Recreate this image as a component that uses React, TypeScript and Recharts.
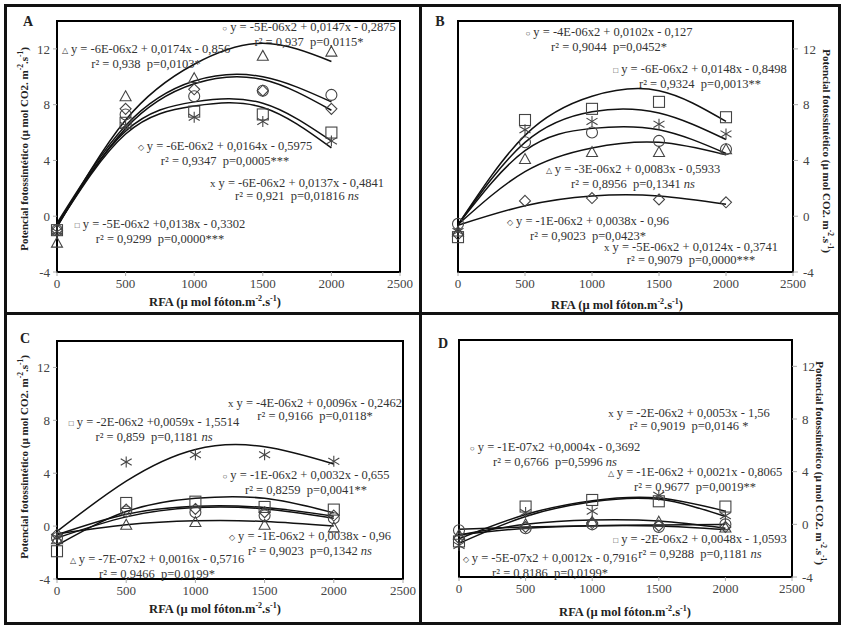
import React from 'react';
import { ComposedChart, Line, XAxis, YAxis, ReferenceArea } from 'recharts';

const serif = "'Liberation Serif', 'Times New Roman', serif";

const rfa = [0, 500, 1000, 1500, 2000];
const xTicks = [0, 500, 1000, 1500, 2000, 2500];
const yTicks = [-4, 0, 4, 8, 12];

// Panel A - measured points
const aDiamond = [-1.0, 7.7, 9.1, 9.0, 7.7];
const aSquare = [-1.0, 6.7, 7.5, 7.3, 6.0];
const aTriangle = [-1.9, 8.6, 9.9, 11.5, 11.8];
const aStar = [-1.1, 6.5, 7.1, 6.8, 5.4];
const aCircle = [-1.0, 7.3, 8.6, 9.0, 8.7];
// Panel A - fitted curves read at the same RFA levels
const aTriangleFit = [-0.8, 6.9, 10.9, 12.4, 11.1];
const aCircleFit = [-0.5, 6.5, 9.7, 10.0, 8.2];
const aDiamondFit = [-0.7, 6.3, 9.5, 9.8, 7.6];
const aSquareFit = [-0.6, 6.1, 8.2, 8.1, 5.4];
const aStarFit = [-0.7, 5.9, 7.9, 7.8, 4.9];

// Panel B
const bDiamond = [-1.3, 1.1, 1.3, 1.2, 1.0];
const bSquare = [-1.5, 6.9, 7.7, 8.2, 7.1];
const bTriangle = [-1.1, 4.1, 4.6, 4.6, 4.8];
const bStar = [-1.1, 6.2, 6.8, 6.6, 5.9];
const bCircle = [-0.55, 5.3, 6.0, 5.4, 4.8];
const bSquareFit = [-0.6, 5.8, 8.6, 9.0, 6.8];
const bStarFit = [-0.6, 5.3, 7.5, 7.4, 5.5];
const bCircleFit = [-0.6, 4.7, 6.3, 6.2, 4.5];
const bTriangleFit = [-0.6, 3.2, 4.9, 5.3, 4.4];
const bDiamondFit = [-0.65, 0.75, 1.45, 1.45, 0.85];

// Panel C
const cDiamond = [-0.65, 1.25, 1.3, 1.05, 0.8];
const cSquare = [-1.9, 1.75, 1.85, 1.45, 1.25];
const cTriangle = [-1.0, 0.1, 0.3, 0.1, -0.1];
const cStar = [-0.85, 4.85, 5.4, 5.4, 4.9];
const cCircle = [-0.9, 1.1, 1.05, 0.8, 0.6];
const cStarFit = [-0.4, 3.4, 5.8, 6.0, 4.7];
const cSquareFit = [-1.45, 1.1, 2.1, 2.1, 1.0];
const cCircleFit = [-0.65, 0.9, 1.5, 1.4, 0.75];
const cDiamondFit = [-0.9, 0.7, 1.4, 1.3, 0.6];
const cTriangleFit = [-0.6, 0.1, 0.4, 0.35, 0.0];

// Panel D
const dDiamond = [-1.05, -0.2, 0.1, -0.1, -0.2];
const dSquare = [-1.3, 1.35, 1.85, 1.75, 1.35];
const dTriangle = [-0.8, 0.0, 0.2, 0.2, -0.25];
const dStar = [-1.6, 0.9, 1.0, 2.2, 0.65];
const dCircle = [-0.45, -0.3, 0.0, -0.2, 0.0];
const dSquareFit = [-1.1, 0.75, 1.8, 2.0, 1.0];
const dStarFit = [-1.45, 0.6, 1.72, 1.9, 0.6];
const dTriangleFit = [-0.8, 0.0, 0.33, 0.25, -0.3];
const dCircleFit = [-0.37, -0.2, -0.1, -0.05, 0.0];
const dDiamondFit = [-0.8, -0.3, -0.1, -0.12, -0.4];

const kinds = ['diamond', 'square', 'triangle', 'star', 'circle'];

function buildRows(points: number[][], fits: number[][]) {
  return rfa.map((x, i) => {
    const row: any = { x };
    kinds.forEach((k, j) => {
      row[k] = points[j][i];
      row[k + 'Fit'] = fits[j][i];
    });
    return row;
  });
}

const rowsA = buildRows(
  [aDiamond, aSquare, aTriangle, aStar, aCircle],
  [aDiamondFit, aSquareFit, aTriangleFit, aStarFit, aCircleFit]
);
const rowsB = buildRows(
  [bDiamond, bSquare, bTriangle, bStar, bCircle],
  [bDiamondFit, bSquareFit, bTriangleFit, bStarFit, bCircleFit]
);
const rowsC = buildRows(
  [cDiamond, cSquare, cTriangle, cStar, cCircle],
  [cDiamondFit, cSquareFit, cTriangleFit, cStarFit, cCircleFit]
);
const rowsD = buildRows(
  [dDiamond, dSquare, dTriangle, dStar, dCircle],
  [dDiamondFit, dSquareFit, dTriangleFit, dStarFit, dCircleFit]
);

type Note = { cx: number; cy: number; sym: string; l1: string; l2: string };

const notesA: Note[] = [
  { cx: 309, cy: 28, sym: '○', l1: 'y = -5E-06x2 + 0,0147x - 0,2875', l2: 'r² = 0,937  p=0,0115*' },
  { cx: 146, cy: 50, sym: '△', l1: 'y = -6E-06x2 + 0,0174x - 0,856', l2: 'r² = 0,938  p=0,0103*' },
  { cx: 225, cy: 147, sym: '◇', l1: 'y = -6E-06x2 + 0,0164x - 0,5975', l2: 'r² = 0,9347  p=0,0005***' },
  { cx: 297, cy: 184, sym: 'x', l1: 'y = -6E-06x2 + 0,0137x - 0,4841', l2: 'r² = 0,921  p=0,01816 ns' },
  { cx: 160, cy: 225, sym: '□', l1: 'y = -5E-06x2 +0,0138x - 0,3302', l2: 'r² = 0,9299  p=0,0000***' },
];
const notesB: Note[] = [
  { cx: 609, cy: 33, sym: '○', l1: 'y = -4E-06x2 + 0,0102x - 0,127', l2: 'r² = 0,9044  p=0,0452*' },
  { cx: 700, cy: 70, sym: '□', l1: 'y = -6E-06x2 + 0,0148x - 0,8498', l2: 'r² = 0,9324  p=0,0013**' },
  { cx: 633, cy: 170, sym: '△', l1: 'y = -3E-06x2 + 0,0083x - 0,5933', l2: 'r² = 0,8956  p=0,1341 ns' },
  { cx: 588, cy: 222, sym: '◇', l1: 'y = -1E-06x2 + 0,0038x - 0,96', l2: 'r² = 0,9023  p=0,0423*' },
  { cx: 691, cy: 248, sym: 'x', l1: 'y = -5E-06x2 + 0,0124x - 0,3741', l2: 'r² = 0,9079  p=0,0000***' },
];
const notesC: Note[] = [
  { cx: 315, cy: 404, sym: 'x', l1: 'y = -4E-06x2 + 0,0096x - 0,2462', l2: 'r² = 0,9166  p=0,0118*' },
  { cx: 154, cy: 423, sym: '□', l1: 'y = -2E-06x2 +0,0059x - 1,5514', l2: 'r² = 0,859  p=0,1181 ns' },
  { cx: 306, cy: 476, sym: '○', l1: 'y = -1E-06x2 + 0,0032x - 0,655', l2: 'r² = 0,8259  p=0,0041**' },
  { cx: 310, cy: 537, sym: '◇', l1: 'y = -1E-06x2 + 0,0038x - 0,96', l2: 'r² = 0,9023  p=0,1342 ns' },
  { cx: 157, cy: 560, sym: '△', l1: 'y = -7E-07x2 + 0,0016x - 0,5716', l2: 'r² = 0,9466  p=0,0199*' },
];
const notesD: Note[] = [
  { cx: 689, cy: 414, sym: 'x', l1: 'y = -2E-06x2 + 0,0053x - 1,56', l2: 'r² = 0,9019  p=0,0146 *' },
  { cx: 555, cy: 448, sym: '○', l1: 'y = -1E-07x2 +0,0004x - 0,3692', l2: 'r² = 0,6766  p=0,5996 ns' },
  { cx: 695, cy: 473, sym: '△', l1: 'y = -1E-06x2 + 0,0021x - 0,8065', l2: 'r² = 0,9677  p=0,0019**' },
  { cx: 700, cy: 540, sym: '□', l1: 'y = -2E-06x2 + 0,0048x - 1,0593', l2: 'r² = 0,9288  p=0,1181 ns' },
  { cx: 550, cy: 559, sym: '◇', l1: 'y = -5E-07x2 + 0,0012x - 0,7916', l2: 'r² = 0,8186  p=0,0199*' },
];

function Marker({ cx, cy, kind }: { cx: number; cy: number; kind: string }) {
  if (cx == null || cy == null) return null;
  const s = 5.5;
  const st = { stroke: '#444', strokeWidth: 1.1, fill: 'none' };
  if (kind === 'diamond')
    return <polygon points={`${cx},${cy - s} ${cx + s},${cy} ${cx},${cy + s} ${cx - s},${cy}`} {...st} />;
  if (kind === 'square') return <rect x={cx - s} y={cy - s} width={2 * s} height={2 * s} {...st} />;
  if (kind === 'triangle')
    return <polygon points={`${cx},${cy - s} ${cx + s},${cy + s * 0.8} ${cx - s},${cy + s * 0.8}`} {...st} />;
  if (kind === 'circle') return <circle cx={cx} cy={cy} r={s} {...st} />;
  return (
    <g {...st}>
      <line x1={cx - s} y1={cy - s * 0.6} x2={cx + s} y2={cy + s * 0.6} />
      <line x1={cx - s} y1={cy + s * 0.6} x2={cx + s} y2={cy - s * 0.6} />
      <line x1={cx} y1={cy - s} x2={cx} y2={cy + s} />
    </g>
  );
}

function Panel({ rows, left, top, width, height, margin, side }: any) {
  return (
    <div style={{ position: 'absolute', left, top }}>
      <ComposedChart width={width} height={height} data={rows} margin={margin}>
        <XAxis
          dataKey="x"
          type="number"
          domain={[0, 2500]}
          ticks={xTicks}
          interval={0}
          axisLine={false}
          tickLine={{ stroke: '#aaa' }}
          tickSize={4}
          tickMargin={3}
          height={30}
          tick={{ fontSize: 13, fill: '#444', fontFamily: serif }}
        />
        <YAxis
          type="number"
          domain={[-4, 14]}
          ticks={yTicks}
          interval={0}
          orientation={side}
          width={30}
          axisLine={false}
          tickLine={{ stroke: '#aaa' }}
          tickSize={side === 'left' ? 4 : 5}
          tickMargin={side === 'left' ? 3 : 5}
          tick={{ fontSize: 13, fill: '#444', fontFamily: serif }}
        />
        <ReferenceArea x1={0} x2={2500} y1={-4} y2={14} fill="none" stroke="#000" strokeWidth={2} />
        {kinds.map((k) => (
          <Line
            key={k + 'Fit'}
            dataKey={k + 'Fit'}
            type="natural"
            stroke="#111"
            strokeWidth={1.5}
            dot={false}
            activeDot={false}
            isAnimationActive={false}
          />
        ))}
        {kinds.map((k) => (
          <Line
            key={k}
            dataKey={k}
            stroke="none"
            activeDot={false}
            isAnimationActive={false}
            dot={(p: any) => <Marker key={k + p.index} cx={p.cx} cy={p.cy} kind={k} />}
          />
        ))}
      </ComposedChart>
    </div>
  );
}

function Notes({ notes }: { notes: Note[] }) {
  return (
    <>
      {notes.map((n, i) => {
        const ns = n.l2.endsWith(' ns');
        return (
          <div
            key={i}
            style={{
              position: 'absolute',
              left: n.cx,
              top: n.cy - 7,
              transform: 'translateX(-50%)',
              textAlign: 'center',
              fontFamily: serif,
              fontSize: 12.5,
              lineHeight: '12.5px',
              color: '#333',
              whiteSpace: 'pre',
            }}
          >
            <div>
              <span style={{ fontSize: n.sym === 'x' ? 11 : 8 }}>{n.sym}</span> {n.l1}
            </div>
            <div>
              {ns ? n.l2.slice(0, -2) : n.l2}
              {ns && <i>ns</i>}
            </div>
          </div>
        );
      })}
    </>
  );
}

const bold: React.CSSProperties = {
  position: 'absolute',
  fontFamily: serif,
  fontWeight: 'bold',
  color: '#222',
  whiteSpace: 'nowrap',
};

function YLabel({ cx, cy, rot }: { cx: number; cy: number; rot: number }) {
  return (
    <div
      style={{
        ...bold,
        fontSize: 11,
        left: cx,
        top: cy,
        transform: `translate(-50%, -50%) rotate(${rot}deg)`,
      }}
    >
      Potencial fotossintético (µ mol CO2. m<sup style={{ fontSize: 7.5 }}>-2</sup>.s<sup style={{ fontSize: 7.5 }}>-1</sup>)
    </div>
  );
}

function XLabel({ cx, cy }: { cx: number; cy: number }) {
  return (
    <div style={{ ...bold, fontSize: 12.5, left: cx, top: cy, transform: 'translate(-50%, -50%)' }}>
      RFA (µ mol fóton.m<sup style={{ fontSize: 8 }}>-2</sup>.s<sup style={{ fontSize: 8 }}>-1</sup>)
    </div>
  );
}

function Letter({ x, y, t }: { x: number; y: number; t: string }) {
  return <div style={{ ...bold, fontSize: 14, left: x, top: y, transform: 'translate(-50%, -50%)' }}>{t}</div>;
}

export default function App() {
  const line = '#111';
  return (
    <div style={{ position: 'relative', width: 841, height: 625, background: '#fff', overflow: 'hidden' }}>
      <style>{'body{margin:0}'}</style>
      <Panel rows={rowsA} left={0} top={0} width={420} height={312} side="left"
        margin={{ top: 21, left: 27, right: 20, bottom: 10 }} />
      <Panel rows={rowsB} left={420} top={0} width={421} height={312} side="right"
        margin={{ top: 21, left: 38, right: 18, bottom: 10 }} />
      <Panel rows={rowsC} left={0} top={312} width={420} height={313} side="left"
        margin={{ top: 29, left: 27, right: 17, bottom: 16 }} />
      <Panel rows={rowsD} left={420} top={312} width={421} height={313} side="right"
        margin={{ top: 28, left: 39, right: 19, bottom: 18 }} />

      <Notes notes={notesA} />
      <Notes notes={notesB} />
      <Notes notes={notesC} />
      <Notes notes={notesD} />

      <YLabel cx={23} cy={149} rot={-90} />
      <YLabel cx={828} cy={151} rot={90} />
      <YLabel cx={23} cy={457} rot={-90} />
      <YLabel cx={821} cy={463} rot={90} />

      <XLabel cx={215} cy={302} />
      <XLabel cx={617} cy={305} />
      <XLabel cx={215} cy={609} />
      <XLabel cx={625} cy={612} />

      <Letter x={28} y={22} t="A" />
      <Letter x={440} y={22} t="B" />
      <Letter x={25} y={339} t="C" />
      <Letter x={443} y={344} t="D" />

      <div style={{ position: 'absolute', left: 4, top: 4, width: 831, height: 615, border: `3px solid ${line}` }} />
      <div style={{ position: 'absolute', left: 419, top: 4, width: 3, height: 618, background: line }} />
      <div style={{ position: 'absolute', left: 4, top: 312, width: 834, height: 3, background: line }} />
    </div>
  );
}
